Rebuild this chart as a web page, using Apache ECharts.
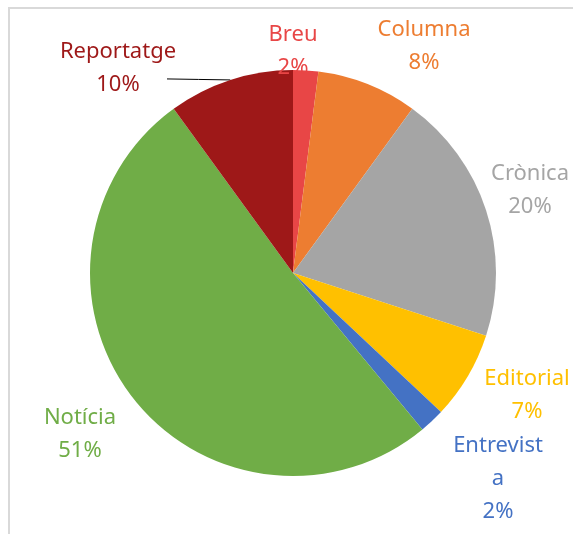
<!DOCTYPE html>
<html>
<head>
    <meta charset="UTF-8">
    <title>Gèneres</title>
    <script src="https://cdn.jsdelivr.net/npm/echarts/dist/echarts.min.js"></script>
    <style>
        html, body { margin: 0; padding: 0; background: #fff; }
        #chart { width: 573px; height: 534px; }
    </style>
</head>
<body>
    <div id="chart"></div>
    <script>
        // dades llegides del gràfic (percentatges)
        const generes = ['Breu', 'Columna', 'Crònica', 'Editorial', 'Entrevista', 'Notícia', 'Reportatge'];
        const percentatges = [2, 8, 20, 7, 2, 51, 10];
        const colors = ['#E84646', '#ED7D31', '#A5A5A5', '#FFC000', '#4472C4', '#70AD47', '#9E1818'];

        // on van les etiquetes (centre del text)
        const labelSpots = [[293, 51], [424, 46], [530, 190], [527, 395], [498, 479], [80, 434], [118, 68]];

        const chart = echarts.init(document.getElementById('chart'));

        const option = {
            animation: false,
            graphic: [{
                type: 'rect',
                shape: { x: 9, y: 8, width: 700, height: 700 },
                style: { fill: 'none', stroke: '#D9D9D9', lineWidth: 2 },
                z: -1
            }],
            series: [{
                type: 'pie',
                center: [293, 273],
                radius: 203,
                startAngle: 90,
                clockwise: true,
                label: {
                    show: true,
                    position: 'outside',
                    fontFamily: 'Noto Sans',
                    fontSize: 22,
                    lineHeight: 33,
                    align: 'center',
                    overflow: 'none',
                    formatter: p => (p.name === 'Entrevista' ? 'Entrevist\na' : p.name) + '\n' + p.value + '%'
                },
                labelLine: { show: false },
                labelLayout: params => {
                    const s = labelSpots[params.dataIndex];
                    const out = { x: s[0], y: s[1], align: 'center', verticalAlign: 'middle' };
                    if (params.dataIndex === 6 && params.labelLinePoints) {
                        // línia quasi horitzontal des de la vora del sector fins al text
                        const p0 = params.labelLinePoints[0];
                        const end = [s[0] + 49, p0[1] - 1];
                        out.labelLinePoints = [p0, [(p0[0] + end[0]) / 2, (p0[1] + end[1]) / 2], end];
                    }
                    return out;
                },
                data: generes.map((g, i) => ({
                    name: g,
                    value: percentatges[i],
                    itemStyle: { color: colors[i] },
                    label: { color: colors[i] },
                    labelLine: g === 'Reportatge'
                        ? { show: true, length: 0, length2: 10, lineStyle: { color: '#000', width: 1 } }
                        : { show: false }
                }))
            }]
        };

        chart.setOption(option);
    </script>
</body>
</html>
